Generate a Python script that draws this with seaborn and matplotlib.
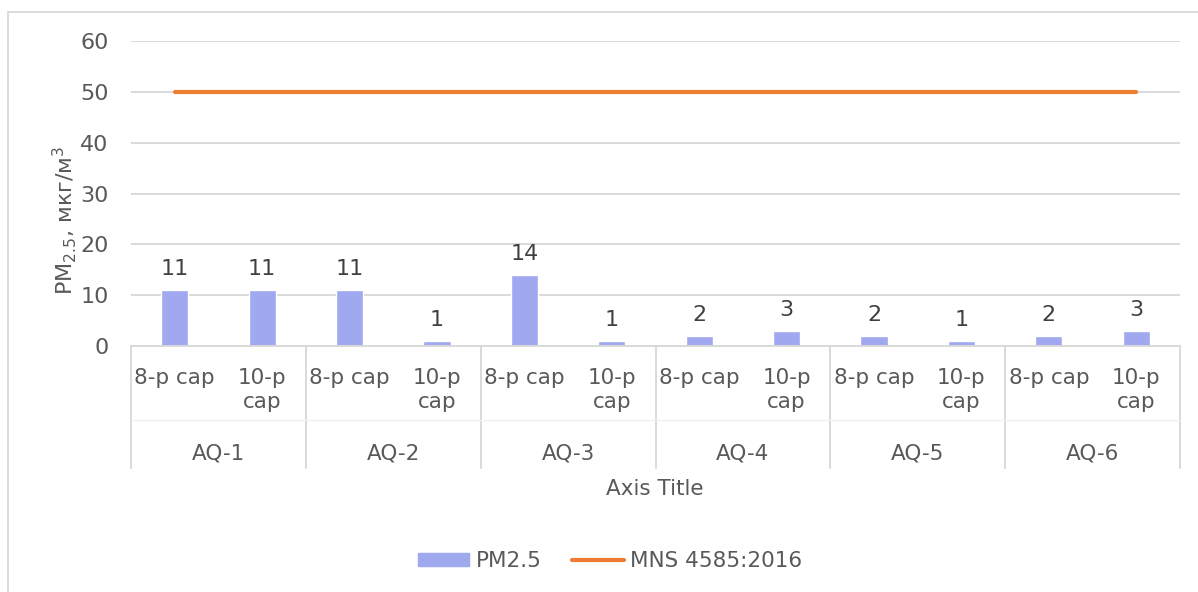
import textwrap
import matplotlib.pyplot as plt
import matplotlib.patches as mpatches
import pandas as pd
import seaborn as sns

# datos
sites = ["AQ-1", "AQ-2", "AQ-3", "AQ-4", "AQ-5", "AQ-6"]
floors = ["8-p cap", "10-p cap"]
pm25 = [11, 11, 11, 1, 14, 1, 2, 3, 2, 1, 2, 3]
standard = [50] * 12

df = pd.DataFrame({
    "site": [s for s in sites for _ in floors],
    "floor": floors * len(sites),
    "pm25": pm25,
    "norm": standard,
})
df["key"] = df["site"] + " " + df["floor"]
df["pos"] = range(len(df))

sns.set_style("white")
plt.rcParams["font.family"] = ["DejaVu Sans"]
FS = 15.5

W, H = 1198, 592
fig = plt.figure(figsize=(W / 100, H / 100), dpi=100)
# area de trazado en pixeles: x 131-1180, y 41-346
ax = fig.add_axes([131 / W, 1 - 346 / H, (1180 - 131) / W, (346 - 41) / H])

sns.barplot(data=df, x="key", y="pm25", color="#A0A8F0", saturation=1,
            width=0.31, ax=ax, label="PM2.5")
sns.lineplot(data=df, x="pos", y="norm", color="#ED7D31", linewidth=3,
             ax=ax, label="MNS 4585:2016", solid_capstyle="round")

ax.bar_label(ax.containers[0], padding=8, color="#404040", fontsize=16)

ax.set_ylim(0, 60)
ax.set_xlim(-0.5, len(df) - 0.5)
ax.set_yticks(range(0, 61, 10))
ax.yaxis.grid(True, color="#D9D9D9", linewidth=1.4)
ax.set_axisbelow(True)
ax.tick_params(axis="y", length=0, pad=16, labelcolor="#595959", labelsize=16)
ax.set_xticks([])
ax.set_xlabel("")
ax.set_ylabel("")
for s in ["top", "right", "left"]:
    ax.spines[s].set_visible(False)
ax.spines["bottom"].set_color("#D9D9D9")
ax.spines["bottom"].set_linewidth(1.4)
ax.get_legend().remove()


def ya(py):
    # pixel y -> fraccion del eje
    return (346 - py) / 305


tr = ax.get_xaxis_transform()
for i, row in df.iterrows():
    ax.text(row["pos"], ya(368), textwrap.fill(row["floor"], 7), transform=tr,
            ha="center", va="top", color="#595959", fontsize=FS,
            linespacing=1.22, clip_on=False)
for j, s in enumerate(sites):
    ax.text(2 * j + 0.5, ya(453), s, transform=tr, ha="center", va="center",
            color="#595959", fontsize=FS, clip_on=False)
for k in range(len(sites) + 1):
    ax.plot([2 * k - 0.5] * 2, [ya(346), ya(468)], transform=tr,
            color="#D9D9D9", linewidth=1.4, clip_on=False)
ax.plot([-0.5, len(df) - 0.5], [ya(420)] * 2, transform=tr,
        color="#F0F0F0", linewidth=1, clip_on=False)

fig.text(655 / W, 1 - 489 / H, "Axis Title", ha="center", va="center",
         color="#595959", fontsize=FS)
fig.text(65 / W, 1 - 220 / H, "PM$_{2.5}$, мкг/м$^3$", rotation=90,
         ha="center", va="center", color="#595959", fontsize=16)

handles = [mpatches.Patch(color="#A0A8F0", label="PM2.5"),
           plt.Line2D([], [], color="#ED7D31", linewidth=3,
                      solid_capstyle="round", label="MNS 4585:2016")]
fig.legend(handles=handles, loc="center", bbox_to_anchor=(610 / W, 1 - 561 / H),
           ncol=2, frameon=False, handlelength=2.4, handleheight=0.6,
           handletextpad=0.3, columnspacing=1.4, fontsize=FS,
           labelcolor="#595959")

# borde del area del grafico
fig.add_artist(mpatches.Rectangle((8 / W, -0.05), 1.2, 1 - 12 / H + 0.05,
                                  transform=fig.transFigure, fill=False,
                                  edgecolor="#D9D9D9", linewidth=1.3))

fig.savefig("out.png", dpi=100)
